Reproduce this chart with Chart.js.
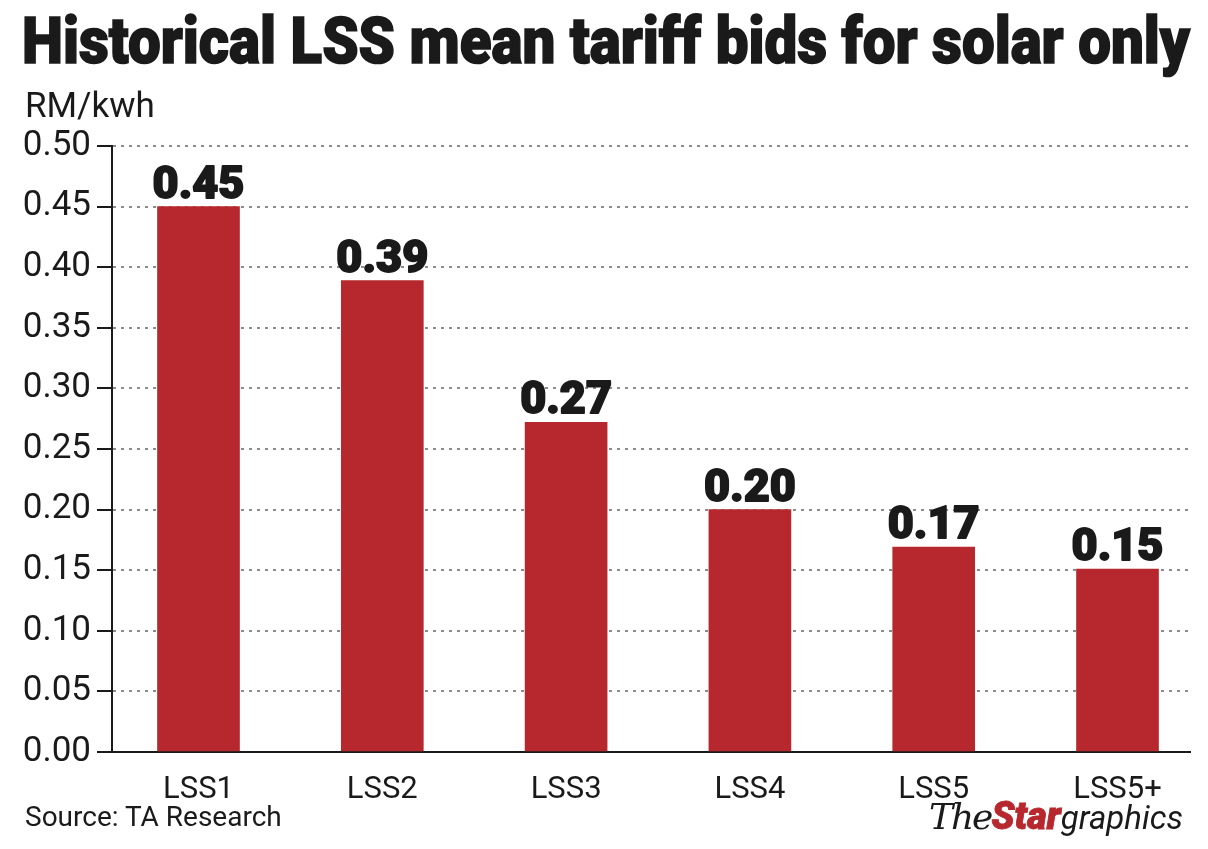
<!DOCTYPE html>
<html>
<head>
<meta charset="utf-8">
<script src="https://cdn.jsdelivr.net/npm/chart.js@4.4.1/dist/chart.umd.min.js"></script>
<style>
  html, body { margin: 0; padding: 0; background: #fff; }
  #wrap { position: relative; width: 1208px; height: 849px; overflow: hidden; font-family: Roboto, "Noto Sans", sans-serif; color: #1a1a1a; }
  #grafico { position: absolute; left: 0; top: 0; }
  .txt { position: absolute; white-space: nowrap; line-height: 1; }
  #titulo { left: 22px; top: 10px; font-size: 64px; font-weight: 900; transform-origin: left top; -webkit-text-stroke: 1.6px #1a1a1a; }
  #unidad { left: 25px; top: 88px; font-size: 35px; }
  #fuente { left: 25px; top: 803px; font-size: 28px; }
  #logo { right: 25px; top: 797px; font-size: 33px; }
  #logo .the { font-family: "DejaVu Serif", serif; font-style: italic; font-size: 36px; letter-spacing: -2px; }
  #logo .star { font-weight: 900; font-style: italic; color: #b7282e; font-size: 38px; -webkit-text-stroke: 0.8px #b7282e; }
  #logo .gra { font-style: italic; font-weight: 400; }
</style>
</head>
<body>
<div id="wrap">
  <canvas id="grafico" width="1208" height="849"></canvas>
  <div class="txt" id="titulo">Historical LSS mean tariff bids for solar only</div>
  <div class="txt" id="unidad">RM/kwh</div>
  <div class="txt" id="fuente">Source: TA Research</div>
  <div class="txt" id="logo"><span class="the">The</span><span class="star">Star</span><span class="gra">graphics</span></div>
</div>
<script>
// datos
const categorias = ["LSS1", "LSS2", "LSS3", "LSS4", "LSS5", "LSS5+"];
const tarifas = [0.45, 0.389, 0.272, 0.20, 0.169, 0.151];
const ticksY = [0.00, 0.05, 0.10, 0.15, 0.20, 0.25, 0.30, 0.35, 0.40, 0.45, 0.50];

const ROJO = '#b7282e';
const TINTA = '#1a1a1a';

// ajustar el titulo al ancho del grafico
const titulo = document.getElementById("titulo");
const anchoTitulo = titulo.getBoundingClientRect().width;
titulo.style.transform = `scaleX(${1168 / anchoTitulo})`;

// etiquetas de valor encima de cada barra
const etiquetasValor = {
    id: 'etiquetasValor',
    afterDatasetsDraw(chart) {
        const ctx = chart.ctx;
        const meta = chart.getDatasetMeta(0);
        ctx.save();
        ctx.font = '900 45px Roboto, "Noto Sans", sans-serif';
        ctx.fillStyle = TINTA;
        ctx.strokeStyle = TINTA;
        ctx.lineWidth = 1.8;
        ctx.lineJoin = 'round';
        ctx.textAlign = 'center';
        ctx.textBaseline = 'alphabetic';
        meta.data.forEach((barra, i) => {
            const texto = tarifas[i].toFixed(2);
            ctx.fillText(texto, barra.x, barra.y - 9);
            ctx.strokeText(texto, barra.x, barra.y - 9);
        });
        ctx.restore();
    }
};

const ctx = document.getElementById("grafico").getContext("2d");
new Chart(ctx, {
    type: 'bar',
    data: {
        datasets: [{
            data: tarifas.map((v, i) => ({ x: i, y: v })),
            backgroundColor: ROJO,
            borderWidth: 0,
            barThickness: 82,
        }]
    },
    options: {
        responsive: false,
        animation: false,
        devicePixelRatio: 1,
        layout: {
            padding: { left: 0, top: 146, right: 18, bottom: 0 }
        },
        plugins: {
            legend: { display: false },
            tooltip: { enabled: false },
        },
        scales: {
            x: {
                type: 'linear',
                min: -0.4706,
                max: 5.3944,
                offset: false,
                grid: { display: false },
                border: { display: true, color: TINTA, width: 2 },
                ticks: {
                    stepSize: 1,
                    includeBounds: false,
                    autoSkip: false,
                    maxRotation: 0,
                    padding: 12,
                    color: TINTA,
                    font: { family: 'Roboto', size: 31 },
                    callback: (v) => Number.isInteger(v) ? categorias[v] : ''
                },
                afterFit: (scale) => { scale.height = 97; }
            },
            y: {
                type: 'linear',
                min: 0,
                max: 0.5,
                grid: {
                    color: '#8c8c8c',
                    lineWidth: 2,
                    drawTicks: true,
                    tickLength: 15,
                    tickColor: TINTA,
                    tickWidth: 2,
                },
                border: { display: true, color: TINTA, width: 2, dash: [3, 5] },
                afterBuildTicks: (scale) => {
                    scale.ticks = ticksY.map(v => ({ value: v }));
                },
                ticks: {
                    padding: 6,
                    color: TINTA,
                    font: { family: 'Roboto', size: 35 },
                    callback: (v) => v.toFixed(2)
                },
                afterFit: (scale) => { scale.width = 112; }
            }
        }
    },
    plugins: [etiquetasValor]
});
</script>
</body>
</html>
